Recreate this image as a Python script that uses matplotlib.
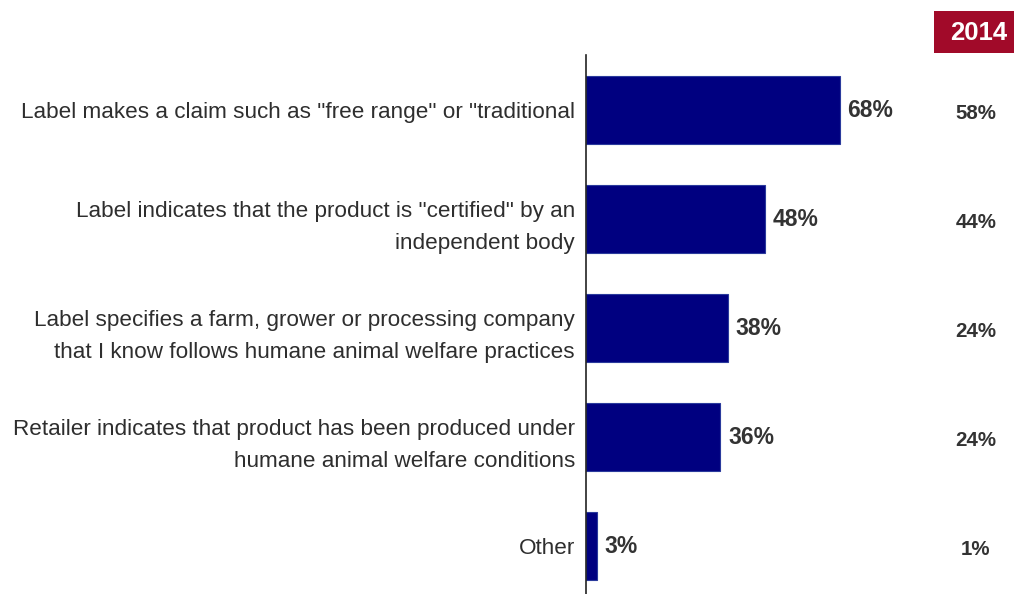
import matplotlib
matplotlib.use("Agg")
import matplotlib.pyplot as plt
from matplotlib.patches import Rectangle

categories = [
    'Label makes a claim such as "free range" or "traditional',
    'Label indicates that the product is "certified" by an\nindependent body',
    'Label specifies a farm, grower or processing company\nthat I know follows humane animal welfare practices',
    'Retailer indicates that product has been produced under\nhumane animal welfare conditions',
    'Other',
]
values_current = [68, 48, 38, 36, 3]
values_2014 = [58, 44, 24, 24, 1]
column_header = "2014"

plt.rcParams['font.family'] = ['Liberation Sans', 'DejaVu Sans']

fig = plt.figure(figsize=(10.17, 5.94), dpi=100)
ax = fig.add_axes([586 / 1017, 0.0, 431 / 1017, 1 - 55 / 594])

ypos = list(range(len(categories)))
ax.barh(ypos, values_current, height=0.62, color='#000080',
        edgecolor='#2a3a9c', linewidth=0.8, zorder=2)

ax.set_xlim(0, 431 / 3.735)
ax.set_ylim(4.44, -0.505)

for s in ['top', 'right', 'bottom']:
    ax.spines[s].set_visible(False)
ax.spines['left'].set_color('#222222')
ax.spines['left'].set_linewidth(1.2)
ax.set_xticks([])
ax.set_yticks(ypos)
ax.set_yticklabels(categories, fontsize=16.2, color='#2e2e2e',
                   linespacing=1.7)
ax.tick_params(axis='y', length=0, pad=8)

for y, v in zip(ypos, values_current):
    ax.text(v + 2.0, y, f"{v}%", va='center', ha='left',
            fontsize=16.5, fontweight='bold', color='#333333')

# comparison column for the earlier year
col_x = 976 / 1017
for y, v in zip(ypos, values_2014):
    fy = ax.transData.transform((0, y + 0.03))[1]
    fy = fig.transFigure.inverted().transform((0, fy))[1]
    fig.text(col_x, fy, f"{v}%", va='center', ha='center',
             fontsize=14.8, fontweight='bold', color='#333333')

fig.patches.append(Rectangle((934 / 1017, 1 - 53 / 594), 80 / 1017, 42 / 594,
                             transform=fig.transFigure, facecolor='#a10a29',
                             edgecolor='none'))
fig.text(979 / 1017, 1 - 33 / 594, column_header, ha='center', va='center',
         fontsize=18.5, fontweight='bold', color='white')

fig.savefig("out.png", dpi=100)
